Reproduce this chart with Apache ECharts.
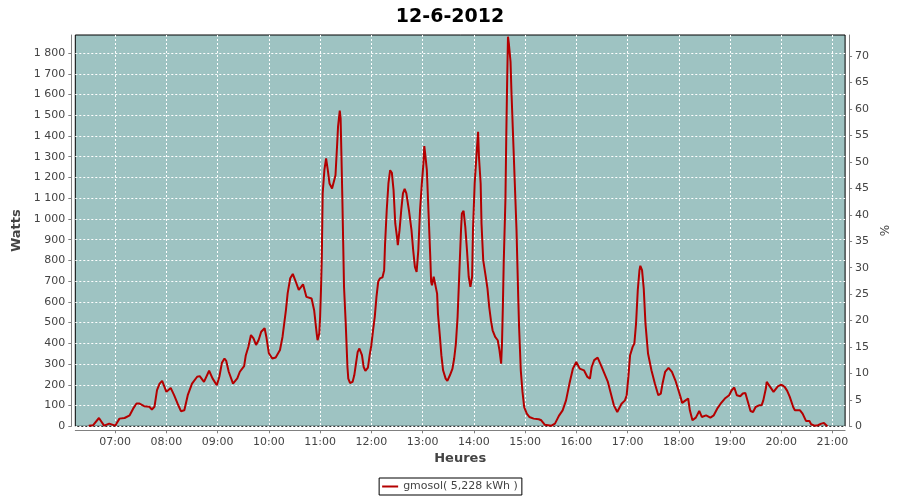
<!DOCTYPE html>
<html><head><meta charset="utf-8">
<script src="https://cdn.jsdelivr.net/npm/echarts@6/dist/echarts.min.js"></script>
<style>html,body{margin:0;padding:0;background:#fff}#c{width:900px;height:500px}</style>
</head><body><div id="c"></div>
<script>
const title = "12-6-2012";
const seriesName = "gmosol( 5,228 kWh )";
const xTickLabels = ["07:00","08:00","09:00","10:00","11:00","12:00","13:00","14:00","15:00","16:00","17:00","18:00","19:00","20:00","21:00"];
const wattTicks = [0,100,200,300,400,500,600,700,800,900,1000,1100,1200,1300,1400,1500,1600,1700,1800];
const pctTicks = [0,5,10,15,20,25,30,35,40,45,50,55,60,65,70];
const times = ["06:29","06:34","06:41","06:47","06:53","07:00","07:05","07:11","07:17","07:21","07:25","07:28","07:34","07:40","07:43","07:46","07:49","07:52","07:55","08:00","08:05","08:09","08:13","08:17","08:21","08:25","08:30","08:36","08:39","08:44","08:50","08:54","08:59","09:02","09:05","09:08","09:10","09:13","09:18","09:23","09:26","09:31","09:33","09:36","09:39","09:42","09:45","09:48","09:51","09:55","09:57","10:00","10:04","10:08","10:13","10:16","10:20","10:22","10:25","10:28","10:31","10:35","10:38","10:40","10:44","10:50","10:53","10:56","10:57","10:59","11:00","11:01","11:02","11:03","11:05","11:07","11:09","11:11","11:14","11:16","11:18","11:20","11:21","11:23","11:24","11:25","11:26","11:27","11:28","11:30","11:32","11:33","11:35","11:38","11:40","11:42","11:44","11:46","11:49","11:51","11:53","11:56","11:58","12:00","12:02","12:04","12:06","12:08","12:10","12:13","12:15","12:16","12:18","12:20","12:22","12:24","12:26","12:28","12:30","12:31","12:33","12:35","12:37","12:39","12:41","12:44","12:47","12:49","12:51","12:53","12:55","12:57","12:59","13:01","13:02","13:03","13:05","13:07","13:09","13:10","13:11","13:13","13:15","13:17","13:18","13:20","13:22","13:24","13:27","13:29","13:32","13:35","13:37","13:39","13:41","13:43","13:45","13:46","13:48","13:50","13:52","13:54","13:56","13:58","13:59","14:01","14:03","14:05","14:06","14:08","14:09","14:11","14:14","14:16","14:18","14:20","14:22","14:25","14:28","14:30","14:32","14:33","14:34","14:35","14:37","14:38","14:39","14:40","14:41","14:43","14:44","14:46","14:48","14:50","14:52","14:53","14:55","14:57","14:59","15:02","15:05","15:10","15:16","15:19","15:23","15:25","15:31","15:35","15:38","15:40","15:44","15:48","15:52","15:56","16:00","16:04","16:09","16:13","16:16","16:18","16:21","16:25","16:29","16:33","16:37","16:41","16:44","16:48","16:50","16:53","16:57","16:59","17:01","17:03","17:06","17:08","17:10","17:12","17:14","17:15","17:17","17:19","17:21","17:24","17:28","17:32","17:36","17:39","17:41","17:44","17:48","17:52","17:56","17:59","18:02","18:04","18:08","18:11","18:13","18:16","18:20","18:24","18:27","18:29","18:32","18:34","18:37","18:41","18:45","18:49","18:54","18:59","19:02","19:05","19:08","19:12","19:15","19:18","19:21","19:24","19:27","19:30","19:34","19:37","19:39","19:42","19:43","19:45","19:47","19:51","19:53","19:56","20:00","20:04","20:07","20:10","20:14","20:16","20:22","20:25","20:29","20:33","20:35","20:39","20:43","20:47","20:50","20:52","20:54"];
const watts = [3,5,40,3,13,3,37,40,53,85,110,110,97,94,81,94,174,206,219,166,185,150,110,73,77,150,206,239,242,214,268,231,198,239,306,327,316,263,206,231,263,290,343,384,440,424,392,416,456,473,432,352,327,332,368,432,561,642,714,735,703,658,674,685,624,616,560,447,415,447,528,656,817,1123,1235,1292,1235,1171,1147,1155,1211,1364,1445,1522,1485,1300,1107,890,672,495,286,230,209,214,246,302,359,375,343,286,267,283,343,391,463,528,624,697,713,718,753,874,1042,1171,1235,1223,1139,978,914,874,946,1042,1123,1145,1123,1042,946,849,769,745,849,1042,1163,1268,1351,1316,1235,1026,817,697,680,721,713,640,544,447,343,270,230,219,246,278,327,399,528,737,946,1026,1039,962,849,721,672,721,946,1171,1300,1420,1300,1171,978,801,721,664,576,512,463,431,415,367,302,399,576,785,1091,1396,1654,1879,1847,1758,1622,1396,1171,946,624,479,270,166,93,61,45,37,34,29,8,3,3,13,37,53,77,125,206,278,310,278,270,238,230,286,319,331,294,254,214,150,101,69,77,109,125,150,238,343,383,399,496,656,753,774,753,664,496,351,270,206,150,158,206,262,282,262,222,182,142,113,125,134,77,29,42,74,45,37,53,61,42,53,85,109,134,150,174,187,150,145,158,161,117,74,69,93,101,101,125,182,214,219,190,166,174,193,201,190,171,142,93,77,77,61,26,26,10,3,5,13,16,10,0];

function toMin(s){const p=s.split(":");return (+p[0])*60+(+p[1]);}
function fmtMin(v){const h=Math.floor(v/60),m=Math.round(v-h*60);return (h<10?"0":"")+h+":"+(m<10?"0":"")+m;}
const data = times.map((t,i)=>[toMin(t), watts[i]]);
const xTickVals = xTickLabels.map(toMin);

const F = "DejaVu Sans";
const gridLine = {show:true, lineStyle:{color:"#ffffff", type:[2,2], width:1}};
const axisGray = "#808080";
const chart = echarts.init(document.getElementById("c"), null, {renderer:"canvas"});
chart.setOption({
  animation:false,
  backgroundColor:"#ffffff",
  title:{text:title, left:"center", top:3, textStyle:{fontFamily:F, fontSize:19, fontWeight:"bold", color:"#000"}},
  legend:{data:[{name:seriesName, icon:"rect"}], left:"center", top:478, itemWidth:16, itemHeight:2,
    borderColor:"#000", borderWidth:1, padding:[3,4,3,3], backgroundColor:"#fff",
    textStyle:{fontFamily:F, fontSize:11, color:"#444"}},
  grid:{left:75.3, top:35, right:53.3, bottom:73.7, show:true, backgroundColor:"#9EC3C2", borderColor:"#000", borderWidth:1, containLabel:false},
  xAxis:{type:"value", min:373.3, max:1274.8, offset:4,
    name:"Heures", nameLocation:"middle", nameGap:22,
    nameTextStyle:{fontFamily:F, fontSize:13, fontWeight:"bold", color:"#444"},
    axisLine:{show:true, onZero:false, lineStyle:{color:axisGray, width:1}},
    axisTick:{show:true, length:3, customValues:xTickVals, lineStyle:{color:axisGray}},
    axisLabel:{customValues:xTickVals, formatter:v=>fmtMin(v), margin:6, fontFamily:F, fontSize:11, color:"#444"},
    splitLine:gridLine},
  yAxis:[
    {type:"value", min:0, max:1887, position:"left", offset:4,
      name:"Watts", nameLocation:"middle", nameGap:42,
      nameTextStyle:{fontFamily:F, fontSize:13, fontWeight:"bold", color:"#444"},
      axisLine:{show:true, lineStyle:{color:axisGray, width:1}},
      axisTick:{show:true, length:3, customValues:wattTicks, lineStyle:{color:axisGray}},
      axisLabel:{customValues:wattTicks, formatter:v=>v>=1000?(Math.floor(v/1000)+" "+String(v%1000).padStart(3,"0")):String(v), margin:6, fontFamily:F, fontSize:11, color:"#444"},
      splitLine:gridLine},
    {type:"value", min:0, max:74, position:"right", offset:4,
      name:"%", nameLocation:"middle", nameGap:26,
      nameTextStyle:{fontFamily:F, fontSize:12, color:"#444"},
      axisLine:{show:true, lineStyle:{color:axisGray, width:1}},
      axisTick:{show:true, length:3, customValues:pctTicks, lineStyle:{color:axisGray}},
      axisLabel:{customValues:pctTicks, margin:6, fontFamily:F, fontSize:11, color:"#444"},
      splitLine:{show:false}}
  ],
  series:[{name:seriesName, type:"line", data:data, showSymbol:false, symbol:"none",
    lineStyle:{color:"#B40000", width:2}, itemStyle:{color:"#B40000"}, clip:true}]
});
</script></body></html>
